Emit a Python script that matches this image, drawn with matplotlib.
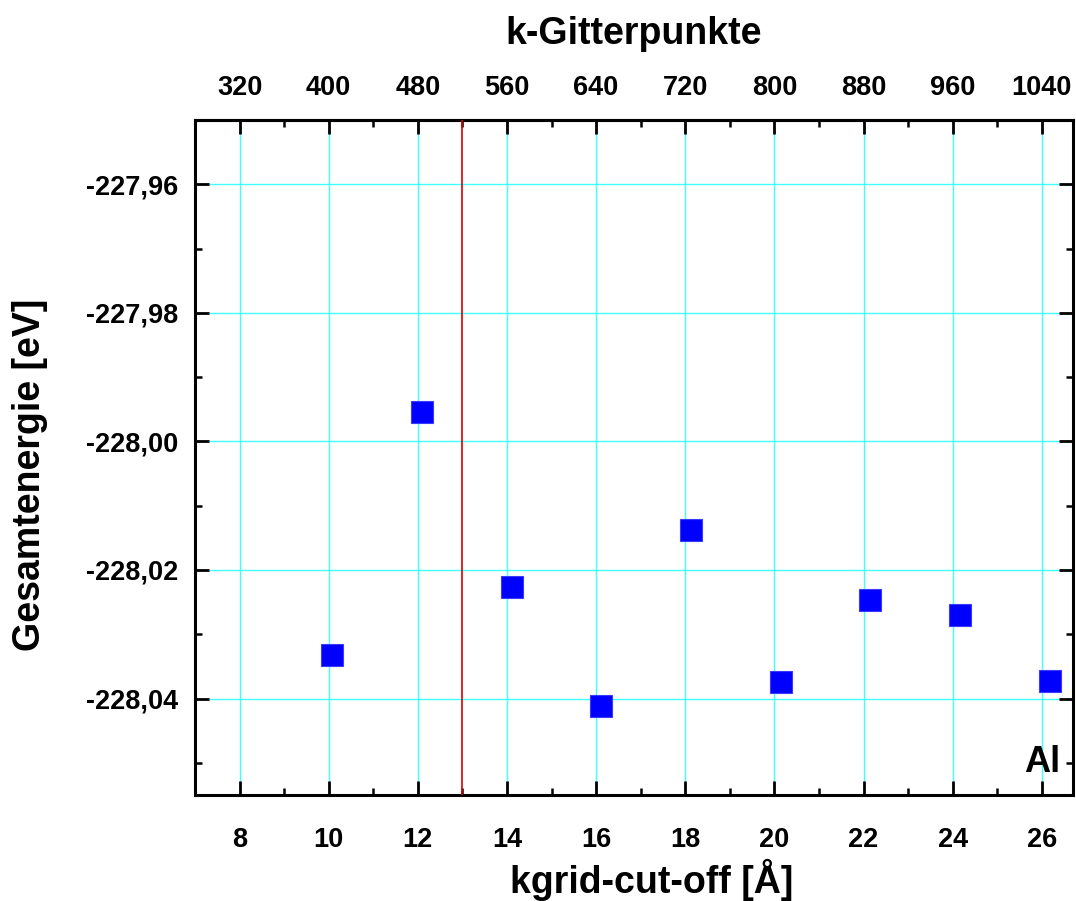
import matplotlib
matplotlib.use("Agg")
import matplotlib.pyplot as plt
from matplotlib.ticker import MultipleLocator, FuncFormatter, FixedLocator

# k-grid cut-off [Å] and total energy [eV] for Al
cutoff = [10.07, 12.09, 14.11, 16.12, 18.13, 20.14, 22.15, 24.17, 26.18]
energy = [-228.0333, -227.9954, -228.0227, -228.0412, -228.0138,
          -228.0374, -228.0247, -228.0270, -228.0372]
converged_cutoff = 13.0
points_per_angstrom = 40
top_ticks = [320, 400, 480, 560, 640, 720, 800, 880, 960, 1040]

plt.rcParams['font.family'] = ['Liberation Sans', 'DejaVu Sans']
plt.rcParams['font.weight'] = 'bold'

fig = plt.figure(figsize=(10.76, 9.01), dpi=100)
ax = fig.add_axes([195 / 1076, 106 / 901, 878 / 1076, 675 / 901])

ax.plot(cutoff, energy, linestyle='none', marker='s', markersize=15.5,
        markerfacecolor='#0000ff', markeredgecolor='#3a3aff',
        markeredgewidth=0.8, zorder=5)
ax.axvline(converged_cutoff, color='#dd0000', lw=1.2, zorder=3)

ax.set_xlim(7.0, 26.7)
ax.set_ylim(-228.055, -227.95)

ax.xaxis.set_major_locator(MultipleLocator(2))
ax.xaxis.set_minor_locator(MultipleLocator(1))
ax.yaxis.set_major_locator(MultipleLocator(0.02))
ax.yaxis.set_minor_locator(MultipleLocator(0.01))
ax.yaxis.set_major_formatter(FuncFormatter(lambda v, p: f"{v:.2f}".replace('.', ',')))

ax.grid(True, which='major', color='#40ffff', lw=1.0, zorder=1)
ax.set_axisbelow(True)

for s in ax.spines.values():
    s.set_linewidth(2.2)

ax.tick_params(which='major', direction='in', length=10, width=2.0,
               labelsize=19.5, pad=23, right=True, top=True)
ax.tick_params(axis='y', which='major', pad=12)
ax.tick_params(which='minor', direction='in', length=5, width=1.8,
               right=True, top=True)
for lab in ax.get_xticklabels() + ax.get_yticklabels():
    lab.set_fontweight('bold')

ax.set_xlabel('kgrid-cut-off [Å]', fontsize=27, fontweight='bold')
ax.xaxis.set_label_coords(0.52, -0.094)
ax.set_ylabel('Gesamtenergie [eV]', fontsize=27, fontweight='bold')
ax.yaxis.set_label_coords(-0.167, 0.475)

# upper axis: number of k-grid points (labels only, tick marks come from ax)
top = ax.secondary_xaxis('top', functions=(lambda x: x * points_per_angstrom,
                                           lambda k: k / points_per_angstrom))
top.xaxis.set_major_locator(FixedLocator(top_ticks))
top.tick_params(which='both', length=0, pad=14)
top.xaxis.set_minor_locator(FixedLocator([]))
top.spines['top'].set_linewidth(2.2)
for lab in top.get_xticklabels():
    lab.set_fontsize(19.5)
    lab.set_fontweight('bold')
top.set_xlabel('k-Gitterpunkte', fontsize=27, fontweight='bold', labelpad=22)

ax.text(0.985, 0.034, 'Al', transform=ax.transAxes, ha='right', va='baseline',
        fontsize=26, fontweight='bold')

fig.savefig('out.png', dpi=100)
